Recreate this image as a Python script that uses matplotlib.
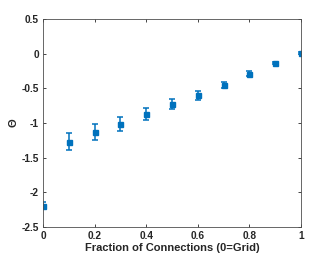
import matplotlib.pyplot as plt

# values
fraction = [0, 0.1, 0.2, 0.3, 0.4, 0.5, 0.6, 0.7, 0.8, 0.9, 1.0]
theta = [-2.19, -1.27, -1.13, -1.01, -0.87, -0.73, -0.60, -0.45, -0.29, -0.135, 0.01]
theta_err = [0.05, 0.12, 0.11, 0.10, 0.085, 0.07, 0.065, 0.045, 0.035, 0.02, 0.01]

plt.rcParams['font.family'] = ['Liberation Sans', 'DejaVu Sans']

fig = plt.figure(figsize=(3.32, 2.57), dpi=100)
ax = fig.add_axes([43 / 332, 1 - 227 / 257, 258 / 332, 208 / 257])

ax.errorbar(fraction, theta, yerr=theta_err, fmt='s', color='#0072BD',
            markersize=3.6, elinewidth=1.1, capsize=2, capthick=1.1)

ax.set_xlim(0, 1)
ax.set_ylim(-2.5, 0.5)
ax.set_xticks([0, 0.2, 0.4, 0.6, 0.8, 1])
ax.set_xticklabels(['0', '0.2', '0.4', '0.6', '0.8', '1'])
ax.set_yticks([-2.5, -2, -1.5, -1, -0.5, 0, 0.5])
ax.set_yticklabels(['-2.5', '-2', '-1.5', '-1', '-0.5', '0', '0.5'])
ax.tick_params(direction='in', length=2.5, width=0.6, colors='#262626',
               labelsize=7.3, top=True, right=True, pad=3)
for s in ax.spines.values():
    s.set_color('#4d4d4d')
    s.set_linewidth(0.6)
for lab in ax.get_xticklabels() + ax.get_yticklabels():
    lab.set_fontweight('bold')

ax.set_xlabel('Fraction of Connections (0=Grid)', fontsize=8, fontweight='bold',
              color='#262626', labelpad=1)
ax.set_ylabel('Θ', fontsize=8, fontweight='bold', color='#262626', labelpad=2)

fig.savefig('out.png', dpi=100)
